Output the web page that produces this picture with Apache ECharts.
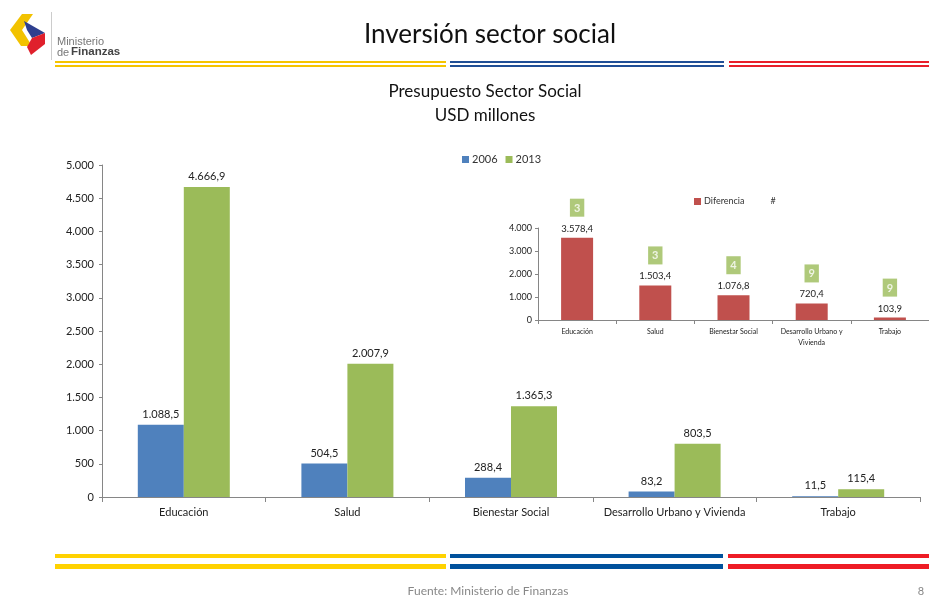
<!DOCTYPE html>
<html>
<head>
<meta charset="utf-8">
<script src="https://cdn.jsdelivr.net/npm/echarts@6/dist/echarts.min.js"></script>
<style>
  html, body { margin: 0; padding: 0; background: #fff; }
  #chart { width: 929px; height: 597px; }
</style>
</head>
<body>
<div id="chart"></div>
<script>
// datos del gráfico principal
const categories = ['Educación', 'Salud', 'Bienestar Social', 'Desarrollo Urbano y Vivienda', 'Trabajo']
const values2006 = [1088.5, 504.5, 288.4, 83.2, 11.5]
const values2013 = [4666.9, 2007.9, 1365.3, 803.5, 115.4]

// datos del gráfico pequeño (diferencia)
const insetCategories = ['Educación', 'Salud', 'Bienestar Social', 'Desarrollo Urbano y\nVivienda', 'Trabajo']
const diferencia = [3578.4, 1503.4, 1076.8, 720.4, 103.9]
const veces = [3, 3, 4, 9, 9]

const FONT = 'Lato'
const BLUE = '#4F81BD'
const GREEN = '#9BBB59'
const RED = '#C0504D'

// formato con punto de miles y coma decimal
const fmt = (v, d) => {
  const parts = v.toFixed(d).split('.')
  const ent = parts[0].replace(/\B(?=(\d{3})+(?!\d))/g, '.')
  return parts[1] ? ent + ',' + parts[1] : ent
}

const line = (x1, x2, y, h, color) => ({
  type: 'rect', shape: { x: x1, y: y, width: x2 - x1, height: h }, style: { fill: color }, silent: true
})

const chart = echarts.init(document.getElementById('chart'))

const option = {
  backgroundColor: '#fff',
  animation: false,
  textStyle: { fontFamily: FONT },
  legend: [
    {
      left: 457, top: 149,
      itemWidth: 7, itemHeight: 7, itemGap: 8,
      icon: 'rect',
      textStyle: { fontSize: 11, color: '#333', fontFamily: FONT, padding: [0, 0, 0, -2] },
      data: ['2006', '2013']
    },
    {
      left: 689, top: 192,
      itemWidth: 7, itemHeight: 7, itemGap: 16,
      icon: 'rect',
      textStyle: { fontSize: 9, color: '#333', fontFamily: FONT, padding: [0, 0, 0, -2] },
      data: [{ name: 'Diferencia' }, { name: '#', icon: 'none' }]
    }
  ],
  grid: [
    { left: 102, top: 165, width: 818, height: 332 },
    { left: 538, top: 228, width: 400, height: 92 }
  ],
  xAxis: [
    {
      type: 'category', gridIndex: 0, data: categories,
      axisLine: { lineStyle: { color: '#868686' } },
      axisTick: { show: true, length: 5, lineStyle: { color: '#868686' } },
      axisLabel: { interval: 0, color: '#222', fontSize: 11, margin: 10, fontFamily: FONT }
    },
    {
      type: 'category', gridIndex: 1, data: insetCategories,
      axisLine: { lineStyle: { color: '#868686' } },
      axisTick: { show: true, length: 4, lineStyle: { color: '#868686' } },
      axisLabel: { interval: 0, color: '#222', fontSize: 7, margin: 6, lineHeight: 11, fontFamily: FONT }
    }
  ],
  yAxis: [
    {
      type: 'value', gridIndex: 0, min: 0, max: 5000, interval: 500,
      splitLine: { show: false },
      axisLine: { show: true, lineStyle: { color: '#868686' } },
      axisTick: { show: true, length: 3, lineStyle: { color: '#868686' } },
      axisLabel: { color: '#222', fontSize: 11, margin: 8, fontFamily: FONT, formatter: v => fmt(v, 0) }
    },
    {
      type: 'value', gridIndex: 1, min: 0, max: 4000, interval: 1000,
      splitLine: { show: false },
      axisLine: { show: true, lineStyle: { color: '#868686' } },
      axisTick: { show: true, length: 3, lineStyle: { color: '#868686' } },
      axisLabel: { color: '#222', fontSize: 9, margin: 6, fontFamily: FONT, formatter: v => fmt(v, 0) }
    }
  ],
  series: [
    {
      name: '2006', type: 'bar', xAxisIndex: 0, yAxisIndex: 0,
      data: values2006, barWidth: 46, barGap: '0%',
      itemStyle: { color: BLUE },
      label: { show: true, position: 'top', distance: 5, fontSize: 11, color: '#222', fontFamily: FONT, formatter: p => fmt(p.value, 1) }
    },
    {
      name: '2013', type: 'bar', xAxisIndex: 0, yAxisIndex: 0,
      data: values2013, barWidth: 46, barGap: '0%',
      itemStyle: { color: GREEN },
      label: { show: true, position: 'top', distance: 5, fontSize: 11, color: '#222', fontFamily: FONT, formatter: p => fmt(p.value, 1) }
    },
    {
      name: 'Diferencia', type: 'bar', xAxisIndex: 1, yAxisIndex: 1,
      data: diferencia, barWidth: 32,
      itemStyle: { color: RED },
      label: { show: true, position: 'top', distance: 4, fontSize: 9.5, color: '#222', fontFamily: FONT, formatter: p => fmt(p.value, 1) }
    },
    {
      // cajas verdes con el número de veces
      name: '#', type: 'scatter', xAxisIndex: 1, yAxisIndex: 1,
      data: diferencia, symbolSize: 0,
      itemStyle: { color: 'transparent' },
      label: {
        show: true, position: 'top', distance: 21,
        backgroundColor: GREEN, padding: [4, 4, 3, 4],
        fontSize: 11, fontWeight: 'bold', color: '#fff', fontFamily: FONT,
        formatter: p => String(veces[p.dataIndex])
      }
    }
  ],
  graphic: [
    // logo
    { type: 'polygon', shape: { points: [[22, 14], [33, 14], [22, 30], [32, 46], [21, 46], [10, 30]] }, style: { fill: '#F2C200' } },
    { type: 'polygon', shape: { points: [[24, 21], [45, 33], [32, 38], [27, 30]] }, style: { fill: '#2E3F8F' } },
    { type: 'polygon', shape: { points: [[32, 38], [45, 33], [45, 44], [31, 55], [27, 47]] }, style: { fill: '#E0202C' } },
    { type: 'rect', shape: { x: 51, y: 12, width: 1, height: 48 }, style: { fill: '#ccc' } },
    { type: 'text', left: 57, top: 36, style: { text: 'Ministerio', font: '11px "Liberation Sans"', fill: '#777' } },
    { type: 'text', left: 57, top: 47, style: { text: 'de', font: '11px "Liberation Sans"', fill: '#777' } },
    { type: 'text', left: 71, top: 46, style: { text: 'Finanzas', font: 'bold 11.5px "Liberation Sans"', fill: '#444' } },
    // título
    { type: 'text', x: 490, y: 35, style: { text: 'Inversión sector social', font: '26px Lato', fill: '#111', align: 'center', verticalAlign: 'middle' } },
    // líneas superiores
    line(55, 446, 61, 2, '#F5C400'), line(55, 446, 65, 2, '#F5C400'),
    line(450, 724, 61, 2, '#1F4E96'), line(450, 724, 65, 2, '#1F4E96'),
    line(729, 929, 61, 2, '#E8202A'), line(729, 929, 65, 2, '#E8202A'),
    // títulos del gráfico
    { type: 'text', x: 485, y: 92, style: { text: 'Presupuesto Sector Social', font: '17px Lato', fill: '#111', align: 'center', verticalAlign: 'middle' } },
    { type: 'text', x: 485, y: 116, style: { text: 'USD millones', font: '17px Lato', fill: '#111', align: 'center', verticalAlign: 'middle' } },
    // líneas inferiores
    line(55, 446, 554, 4, '#FFD200'), line(55, 446, 564, 5, '#FFD200'),
    line(450, 723, 554, 4, '#00519C'), line(450, 723, 564, 5, '#00519C'),
    line(728, 929, 554, 4, '#EE1C25'), line(728, 929, 564, 5, '#EE1C25'),
    // pie de página
    { type: 'text', x: 488, y: 591, style: { text: 'Fuente: Ministerio de Finanzas', font: '12px Lato', fill: '#888', align: 'center', verticalAlign: 'middle' } },
    { type: 'text', x: 921, y: 591, style: { text: '8', font: '11px Lato', fill: '#888', align: 'center', verticalAlign: 'middle' } }
  ]
}

chart.setOption(option)
</script>
</body>
</html>
